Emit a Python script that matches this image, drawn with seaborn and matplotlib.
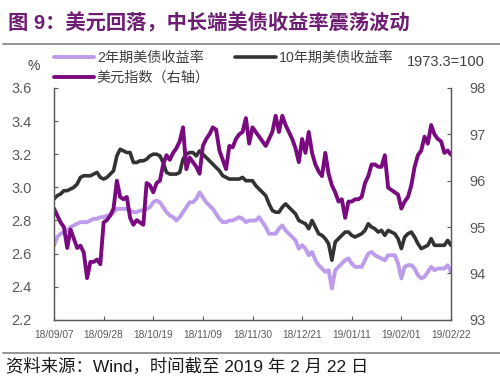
import matplotlib
matplotlib.use('Agg')
import matplotlib.pyplot as plt
from matplotlib.lines import Line2D
import numpy as np
import pandas as pd
import seaborn as sns

# trading days 2018-09-07 .. 2019-02-22, drawn evenly spaced as in the source chart
dates = pd.bdate_range('2018-09-07', '2019-02-22')

yield_2y = [
    2.65, 2.70, 2.72, 2.73, 2.74, 2.76, 2.77, 2.78, 2.79, 2.79,
    2.79, 2.80, 2.81, 2.81, 2.82, 2.82, 2.83, 2.83, 2.85, 2.87,
    2.87, 2.87, 2.87, 2.86, 2.85, 2.85, 2.86, 2.86, 2.87, 2.88,
    2.91, 2.92, 2.91, 2.88, 2.85, 2.83, 2.82, 2.80, 2.82, 2.85,
    2.88, 2.91, 2.91, 2.93, 2.97, 2.94, 2.91, 2.89, 2.87, 2.84,
    2.81, 2.79, 2.79, 2.80, 2.80, 2.81, 2.82, 2.81, 2.79, 2.80,
    2.80, 2.80, 2.82, 2.79, 2.76, 2.72, 2.72, 2.72, 2.75, 2.77,
    2.74, 2.72, 2.70, 2.68, 2.63, 2.65, 2.63, 2.59, 2.61, 2.56,
    2.53, 2.51, 2.49, 2.50, 2.39, 2.50, 2.52, 2.54, 2.56, 2.57,
    2.54, 2.52, 2.52, 2.52, 2.56, 2.60, 2.61, 2.59, 2.58, 2.57,
    2.56, 2.59, 2.59, 2.59, 2.54, 2.45, 2.52, 2.53, 2.53, 2.51,
    2.47, 2.45, 2.46, 2.49, 2.52, 2.50, 2.51, 2.51, 2.51, 2.53, 2.49,
]
yield_10y = [
    2.93, 2.95, 2.96, 2.98, 2.98, 2.99, 3.00, 3.02, 3.06, 3.07,
    3.07, 3.07, 3.08, 3.09, 3.06, 3.05, 3.06, 3.08, 3.10, 3.19,
    3.23, 3.22, 3.21, 3.21, 3.15, 3.15, 3.16, 3.16, 3.17, 3.19,
    3.20, 3.20, 3.19, 3.15, 3.09, 3.08, 3.08, 3.08, 3.09, 3.17,
    3.20, 3.21, 3.21, 3.19, 3.22, 3.20, 3.18, 3.16, 3.14, 3.12,
    3.10, 3.07, 3.06, 3.05, 3.05, 3.05, 3.05, 3.06, 3.04, 3.04,
    3.04, 3.01, 2.99, 2.97, 2.95, 2.90, 2.86, 2.85, 2.85, 2.88,
    2.90, 2.88, 2.86, 2.84, 2.80, 2.79, 2.78, 2.75, 2.80, 2.76,
    2.72, 2.71, 2.69, 2.66, 2.56, 2.67, 2.69, 2.71, 2.73, 2.73,
    2.71, 2.70, 2.71, 2.72, 2.74, 2.78, 2.76, 2.75, 2.73, 2.74,
    2.71, 2.74, 2.73, 2.72, 2.69, 2.63, 2.70, 2.72, 2.73, 2.70,
    2.66, 2.63, 2.64, 2.65, 2.69, 2.65, 2.65, 2.65, 2.65, 2.68, 2.65,
]
usd_index = [
    95.40, 95.25, 95.10, 95.00, 94.55, 94.95, 94.75, 94.55, 94.60, 94.45,
    93.90, 94.25, 94.25, 94.30, 94.20, 95.10, 95.15, 95.25, 95.40, 96.00,
    95.65, 95.60, 95.65, 95.20, 95.05, 95.15, 95.10, 95.05, 95.95, 95.90,
    95.75, 95.95, 96.00, 96.35, 96.55, 96.45, 96.60, 96.70, 96.85, 97.15,
    96.25, 96.50, 96.40, 96.30, 96.15, 96.75, 96.90, 97.00, 97.15, 97.10,
    96.65, 96.45, 96.25, 96.75, 96.72, 96.90, 97.00, 97.05, 97.35, 96.80,
    97.15, 97.05, 96.95, 96.85, 96.75, 96.90, 97.05, 97.40, 97.05, 97.40,
    97.20, 97.05, 96.90, 96.70, 96.40, 96.90, 96.60, 97.05, 96.60, 96.35,
    96.20, 96.10, 96.60, 96.15, 95.90, 95.75, 95.55, 95.60, 95.20, 95.55,
    95.55, 95.60, 95.60, 95.65, 95.95, 96.10, 96.35, 96.35, 96.30, 96.30,
    96.55, 95.85, 95.80, 95.75, 95.70, 95.40, 95.55, 95.65, 95.90, 96.30,
    96.55, 96.65, 96.95, 96.80, 97.20, 97.00, 96.90, 96.85, 96.60, 96.65, 96.56,
]

left_ticks = [2.2, 2.4, 2.6, 2.8, 3.0, 3.2, 3.4, 3.6]
right_ticks = [93, 94, 95, 96, 97, 98]
tick_every = 15  # 15 trading days = 3 weeks

label_2y = '2年期美债收益率'
label_10y = '10年期美债收益率'
label_usd = '美元指数（右轴）'

sns.set_theme(style='white')
plt.rcParams['font.family'] = ['Liberation Sans', 'Noto Sans CJK SC', 'DejaVu Sans']

df = pd.DataFrame({
    'day': np.arange(len(dates)), 'date': dates,
    label_2y: yield_2y, label_10y: yield_10y, label_usd: usd_index,
})

fig = plt.figure(figsize=(5, 3.84), dpi=100)
ax = fig.add_axes([0.108, 0.167, 0.794, 0.604])
axis_grey = '#595959'

sns.lineplot(data=df, x='day', y=label_2y, ax=ax, color='#BC9CEB', linewidth=2.8)
sns.lineplot(data=df, x='day', y=label_10y, ax=ax, color='#333333', linewidth=2.6)
ax2 = ax.twinx()
sns.lineplot(data=df, x='day', y=label_usd, ax=ax2, color='#7A0A80', linewidth=2.8)

ax.set_xlim(0, len(dates) - 1)
ax.set_ylim(2.2, 3.6)
ax2.set_ylim(93, 98)
ax.set_yticks(left_ticks)
ax.set_yticklabels([f"{v:.1f}" for v in left_ticks])
ax2.set_yticks(right_ticks)
tick_pos = df['day'][::tick_every]
ax.set_xticks(tick_pos)
ax.set_xticklabels(df['date'][::tick_every].dt.strftime('%y/%m/%d'))
for a in (ax, ax2):
    a.set_xlabel('')
    a.set_ylabel('')
    a.spines['top'].set_visible(False)
    for side in ('left', 'right', 'bottom'):
        a.spines[side].set_color(axis_grey)
        a.spines[side].set_linewidth(0.9)
    a.tick_params(direction='in', length=3, width=0.8, color=axis_grey, labelcolor=axis_grey)
ax.tick_params(axis='y', labelsize=10.5, pad=16, left=True)
ax2.tick_params(axis='y', labelsize=10.5, pad=13, right=True)
ax.tick_params(axis='x', labelsize=7.3, pad=7, bottom=True)

# legend on two rows
h1, h2 = ax.get_lines()[0], ax.get_lines()[1]
h3 = ax2.get_lines()[0]
fig.legend(
    handles=[h1, h3, h2], labels=[label_2y, label_usd, label_10y],
    ncol=2, loc='upper left', bbox_to_anchor=(0.082, 0.9), frameon=False,
    fontsize=10.2, handlelength=2.85, handletextpad=0.2, columnspacing=1.8,
    labelspacing=0.42, labelcolor='#404040',
)
fig.text(0.067, 0.828, '%', fontsize=10, color='#404040', ha='center', va='center')
fig.text(0.892, 0.838, '1973.3=100', fontsize=10.5, color='#404040', ha='center', va='center')

# title and footer
fig.text(0.016, 0.941, '图 9：美元回落，中长端美债收益率震荡波动', fontsize=14.6, fontweight='bold',
         color='#6E1E72', ha='left', va='center')
fig.add_artist(Line2D([0.006, 1.0], [1 - 44 / 384] * 2, color='#8c8c8c', linewidth=1.3))
fig.add_artist(Line2D([0.006, 1.0], [1 - 353 / 384] * 2, color='#8c8c8c', linewidth=1.3))
fig.text(0.012, 0.048, '资料来源：Wind，时间截至 2019 年 2 月 22 日', fontsize=12.5,
         color='#1a1a1a', ha='left', va='center')

fig.savefig('out.png', dpi=100)
